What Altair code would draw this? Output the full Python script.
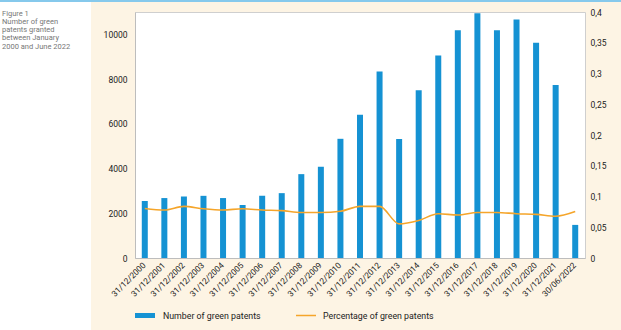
import altair as alt
import pandas as pd

dates = ["31/12/2000", "31/12/2001", "31/12/2002", "31/12/2003", "31/12/2004",
         "31/12/2005", "31/12/2006", "31/12/2007", "31/12/2008", "31/12/2009",
         "31/12/2010", "31/12/2011", "31/12/2012", "31/12/2013", "31/12/2014",
         "31/12/2015", "31/12/2016", "31/12/2017", "31/12/2018", "31/12/2019",
         "31/12/2020", "31/12/2021", "30/06/2022"]
patents = [2550, 2680, 2750, 2780, 2680, 2370, 2780, 2900, 3750, 4080,
           5330, 6410, 8340, 5320, 7500, 9060, 10180, 10940, 10180, 10670,
           9630, 7740, 1480]
share = [0.0805, 0.078, 0.084, 0.080, 0.078, 0.080, 0.078, 0.077, 0.074, 0.074,
         0.076, 0.084, 0.084, 0.0555, 0.061, 0.072, 0.070, 0.074, 0.074, 0.072,
         0.071, 0.068, 0.0756]
caption = ["Figure 1", "Number of green", "patents granted", "between January", "2000 and June 2022"]
legend_labels = ["Number of green patents", "Percentage of green patents"]

df = pd.DataFrame({"date": dates, "patents": patents, "share": share})

BLUE = "#1592d3"
ORANGE = "#f5a52a"
CREAM = "#fdf4e4"
FONT = "Roboto"

W, H = 450, 246

xenc = alt.X("date:N", sort=dates, title=None,
             scale=alt.Scale(paddingInner=0, paddingOuter=0),
             axis=alt.Axis(labelAngle=-45, labelAlign="right", labelBaseline="middle",
                           labelPadding=6, ticks=False, domainColor="#bdbdbd",
                           labelFontSize=8.3, labelColor="#222", labelFont=FONT))

bars = alt.Chart(df).mark_bar(color=BLUE, size=6).encode(
    x=xenc,
    y=alt.Y("patents:Q", title=None,
            scale=alt.Scale(domain=[0, 11000], nice=False),
            axis=alt.Axis(values=[0, 2000, 4000, 6000, 8000, 10000], format="d",
                          ticks=False, grid=False, domainColor="#bdbdbd",
                          labelPadding=8, labelFontSize=8.5, labelColor="#222", labelFont=FONT)),
)

line = alt.Chart(df).mark_line(color=ORANGE, strokeWidth=1.6, interpolate="monotone").encode(
    x=alt.X("date:N", sort=dates),
    y=alt.Y("share:Q", title=None,
            scale=alt.Scale(domain=[0, 0.4], nice=False),
            axis=alt.Axis(orient="right", values=[0, 0.05, 0.1, 0.15, 0.2, 0.25, 0.3, 0.35, 0.4],
                          labelExpr="replace(format(datum.value, '.2~f'), '.', ',')",
                          ticks=False, grid=False, domain=False,
                          labelPadding=5, labelFontSize=8.5, labelColor="#222", labelFont=FONT)),
)

data_layer = alt.layer(bars, line).resolve_scale(y="independent")

# decorations: white strip at left and blue top rule
one = pd.DataFrame({"k": [0]})
white_strip = alt.Chart(one).mark_rect(color="white").encode(
    x=alt.value(-135), x2=alt.value(-44), y=alt.value(-12), y2=alt.value(318))
top_rule = alt.Chart(one).mark_rect(color="#86c9ec").encode(
    x=alt.value(-135), x2=alt.value(486), y=alt.value(-12), y2=alt.value(-10))

cap_text = alt.Chart(one).mark_text(align="left", baseline="middle", fontSize=7.5,
                                    lineHeight=8.3, font=FONT, color="#777777").encode(
    x=alt.value(-133), y=alt.value(1.5), text=alt.value(caption))

leg_rect = alt.Chart(one).mark_rect(color=BLUE).encode(
    x=alt.value(0), x2=alt.value(20), y=alt.value(301), y2=alt.value(306))
leg_rule = alt.Chart(one).mark_rule(color=ORANGE, strokeWidth=1.5).encode(
    x=alt.value(161), x2=alt.value(181), y=alt.value(303.5))
leg_t1 = alt.Chart(one).mark_text(align="left", baseline="middle", fontSize=8.8,
                                  font=FONT, color="#222").encode(
    x=alt.value(28), y=alt.value(303.5), text=alt.value(legend_labels[0]))
leg_t2 = alt.Chart(one).mark_text(align="left", baseline="middle", fontSize=8.8,
                                  font=FONT, color="#222").encode(
    x=alt.value(188), y=alt.value(303.5), text=alt.value(legend_labels[1]))

chart = alt.layer(
    white_strip, top_rule, cap_text, data_layer, leg_rect, leg_rule, leg_t1, leg_t2
).resolve_scale(y="independent").properties(
    width=W, height=H,
    autosize=alt.AutoSizeParams(type="none"),
    padding={"left": 135, "top": 12, "right": 36, "bottom": 72},
    background=CREAM,
).configure_view(fill="white", stroke="#cfcfcf", strokeWidth=1)

chart.save("out.html", embed_options={"renderer": "svg", "actions": False})
